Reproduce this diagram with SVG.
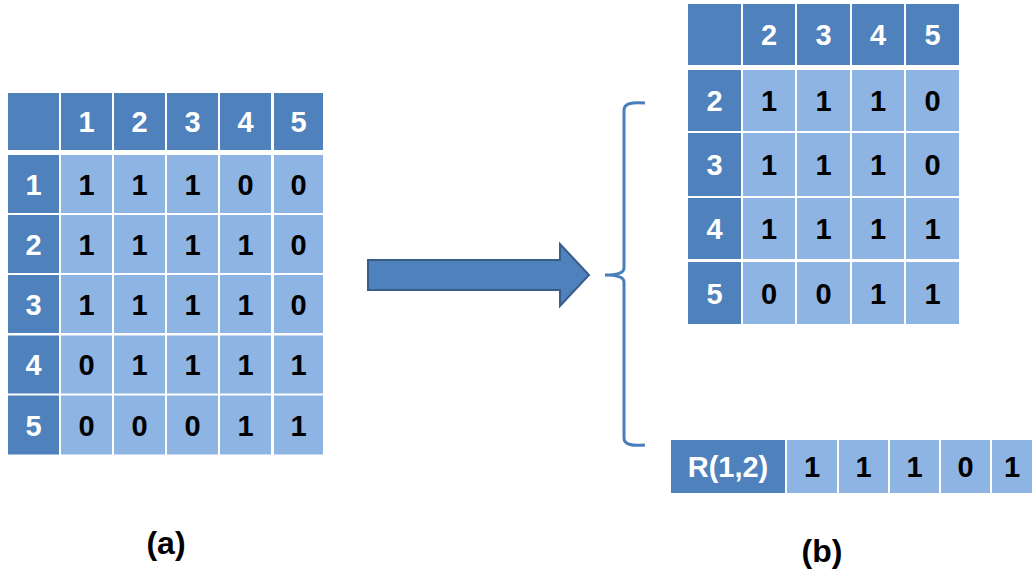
<svg xmlns="http://www.w3.org/2000/svg" width="1032" height="575" viewBox="0 0 1032 575">
<style>
.d{fill:#4F81BD}
.l{fill:#8EB4E3}
.tw{font-family:"Liberation Sans",Arial,sans-serif;font-weight:bold;font-size:29px;fill:#fff;text-anchor:middle}
.tb{font-family:"Liberation Sans",Arial,sans-serif;font-weight:bold;font-size:29px;fill:#000;text-anchor:middle}
.lab{font-family:"Liberation Sans",Arial,sans-serif;font-weight:bold;font-size:32px;fill:#000;text-anchor:middle}
</style>
<rect width="1032" height="575" fill="#fff"/>
<g id="tableA">
<rect class="d" x="8" y="93" width="51" height="57"/>
<rect class="d" x="61" y="93" width="51" height="57"/>
<rect class="d" x="114" y="93" width="51" height="57"/>
<rect class="d" x="167" y="93" width="51" height="57"/>
<rect class="d" x="220" y="93" width="51" height="57"/>
<rect class="d" x="274" y="93" width="49" height="57"/>
<text class="tw" x="86.5" y="132">1</text>
<text class="tw" x="139.5" y="132">2</text>
<text class="tw" x="192.5" y="132">3</text>
<text class="tw" x="245.5" y="132">4</text>
<text class="tw" x="298.5" y="132">5</text>
<g>
<rect class="d" x="8" y="155" width="51" height="58"/>
<rect class="l" x="61" y="155" width="51" height="58"/>
<rect class="l" x="114" y="155" width="51" height="58"/>
<rect class="l" x="167" y="155" width="51" height="58"/>
<rect class="l" x="220" y="155" width="51" height="58"/>
<rect class="l" x="274" y="155" width="49" height="58"/>
<text class="tw" x="33.5" y="194.5">1</text>
<text class="tb" x="86.5" y="194.5">1</text><text class="tb" x="139.5" y="194.5">1</text><text class="tb" x="192.5" y="194.5">1</text><text class="tb" x="245.5" y="194.5">0</text><text class="tb" x="298.5" y="194.5">0</text>
</g>
<g>
<rect class="d" x="8" y="215" width="51" height="58"/>
<rect class="l" x="61" y="215" width="51" height="58"/>
<rect class="l" x="114" y="215" width="51" height="58"/>
<rect class="l" x="167" y="215" width="51" height="58"/>
<rect class="l" x="220" y="215" width="51" height="58"/>
<rect class="l" x="274" y="215" width="49" height="58"/>
<text class="tw" x="33.5" y="254.5">2</text>
<text class="tb" x="86.5" y="254.5">1</text><text class="tb" x="139.5" y="254.5">1</text><text class="tb" x="192.5" y="254.5">1</text><text class="tb" x="245.5" y="254.5">1</text><text class="tb" x="298.5" y="254.5">0</text>
</g>
<g>
<rect class="d" x="8" y="275" width="51" height="58"/>
<rect class="l" x="61" y="275" width="51" height="58"/>
<rect class="l" x="114" y="275" width="51" height="58"/>
<rect class="l" x="167" y="275" width="51" height="58"/>
<rect class="l" x="220" y="275" width="51" height="58"/>
<rect class="l" x="274" y="275" width="49" height="58"/>
<text class="tw" x="33.5" y="314.5">3</text>
<text class="tb" x="86.5" y="314.5">1</text><text class="tb" x="139.5" y="314.5">1</text><text class="tb" x="192.5" y="314.5">1</text><text class="tb" x="245.5" y="314.5">1</text><text class="tb" x="298.5" y="314.5">0</text>
</g>
<g>
<rect class="d" x="8" y="335.5" width="51" height="58"/>
<rect class="l" x="61" y="335.5" width="51" height="58"/>
<rect class="l" x="114" y="335.5" width="51" height="58"/>
<rect class="l" x="167" y="335.5" width="51" height="58"/>
<rect class="l" x="220" y="335.5" width="51" height="58"/>
<rect class="l" x="274" y="335.5" width="49" height="58"/>
<text class="tw" x="33.5" y="375">4</text>
<text class="tb" x="86.5" y="375">0</text><text class="tb" x="139.5" y="375">1</text><text class="tb" x="192.5" y="375">1</text><text class="tb" x="245.5" y="375">1</text><text class="tb" x="298.5" y="375">1</text>
</g>
<g>
<rect class="d" x="8" y="395.5" width="51" height="59"/>
<rect class="l" x="61" y="395.5" width="51" height="59"/>
<rect class="l" x="114" y="395.5" width="51" height="59"/>
<rect class="l" x="167" y="395.5" width="51" height="59"/>
<rect class="l" x="220" y="395.5" width="51" height="59"/>
<rect class="l" x="274" y="395.5" width="49" height="59"/>
<text class="tw" x="33.5" y="435.5">5</text>
<text class="tb" x="86.5" y="435.5">0</text><text class="tb" x="139.5" y="435.5">0</text><text class="tb" x="192.5" y="435.5">0</text><text class="tb" x="245.5" y="435.5">1</text><text class="tb" x="298.5" y="435.5">1</text>
</g>
</g>
<g id="tableB">
<rect class="d" x="688" y="4" width="53" height="61"/>
<rect class="d" x="743" y="4" width="52" height="61"/>
<rect class="d" x="797" y="4" width="53" height="61"/>
<rect class="d" x="852" y="4" width="52" height="61"/>
<rect class="d" x="906" y="4" width="53" height="61"/>
<text class="tw" x="769" y="45">2</text><text class="tw" x="823.5" y="45">3</text><text class="tw" x="878" y="45">4</text><text class="tw" x="932.5" y="45">5</text>
<g>
<rect class="d" x="688" y="70" width="53" height="61"/>
<rect class="l" x="743" y="70" width="52" height="61"/>
<rect class="l" x="797" y="70" width="53" height="61"/>
<rect class="l" x="852" y="70" width="52" height="61"/>
<rect class="l" x="906" y="70" width="53" height="61"/>
<text class="tw" x="714.5" y="111">2</text>
<text class="tb" x="769" y="111">1</text><text class="tb" x="823.5" y="111">1</text><text class="tb" x="878" y="111">1</text><text class="tb" x="932.5" y="111">0</text>
</g>
<g>
<rect class="d" x="688" y="133" width="53" height="63"/>
<rect class="l" x="743" y="133" width="52" height="63"/>
<rect class="l" x="797" y="133" width="53" height="63"/>
<rect class="l" x="852" y="133" width="52" height="63"/>
<rect class="l" x="906" y="133" width="53" height="63"/>
<text class="tw" x="714.5" y="175">3</text>
<text class="tb" x="769" y="175">1</text><text class="tb" x="823.5" y="175">1</text><text class="tb" x="878" y="175">1</text><text class="tb" x="932.5" y="175">0</text>
</g>
<g>
<rect class="d" x="688" y="198" width="53" height="61"/>
<rect class="l" x="743" y="198" width="52" height="61"/>
<rect class="l" x="797" y="198" width="53" height="61"/>
<rect class="l" x="852" y="198" width="52" height="61"/>
<rect class="l" x="906" y="198" width="53" height="61"/>
<text class="tw" x="714.5" y="239">4</text>
<text class="tb" x="769" y="239">1</text><text class="tb" x="823.5" y="239">1</text><text class="tb" x="878" y="239">1</text><text class="tb" x="932.5" y="239">1</text>
</g>
<g>
<rect class="d" x="688" y="262" width="53" height="62"/>
<rect class="l" x="743" y="262" width="52" height="62"/>
<rect class="l" x="797" y="262" width="53" height="62"/>
<rect class="l" x="852" y="262" width="52" height="62"/>
<rect class="l" x="906" y="262" width="53" height="62"/>
<text class="tw" x="714.5" y="303.5">5</text>
<text class="tb" x="769" y="303.5">0</text><text class="tb" x="823.5" y="303.5">0</text><text class="tb" x="878" y="303.5">1</text><text class="tb" x="932.5" y="303.5">1</text>
</g>
</g>
<g id="rowR">
<rect class="d" x="671" y="440" width="114" height="53"/>
<rect class="l" x="787" y="440" width="50" height="53"/>
<rect class="l" x="839" y="440" width="49" height="53"/>
<rect class="l" x="890" y="440" width="49" height="53"/>
<rect class="l" x="941" y="440" width="49" height="53"/>
<rect class="l" x="992" y="440" width="40" height="53"/>
<text class="tw" x="728" y="477" font-size="30">R(1,2)</text>
<text class="tb" x="812" y="477">1</text><text class="tb" x="863.5" y="477">1</text><text class="tb" x="914.5" y="477">1</text><text class="tb" x="965.5" y="477">0</text><text class="tb" x="1012" y="477">1</text>
</g>
<g id="connectors">
<path d="M368,260 L560,260 L560,244 L589,275 L560,306 L560,290 L368,290 Z" fill="#4F81BD" stroke="#385D8A" stroke-width="2" stroke-linejoin="miter"/>
<path d="M645,103 Q624,101 624,110 L624,268 Q624,275 605,275 Q624,275 624,282 L624,438 Q624,447 645,445" fill="none" stroke="#4A7EBB" stroke-width="3"/>
</g>
<g id="labels">
<text class="lab" x="166" y="554">(a)</text>
<text class="lab" x="822" y="562">(b)</text>
</g>
</svg>
